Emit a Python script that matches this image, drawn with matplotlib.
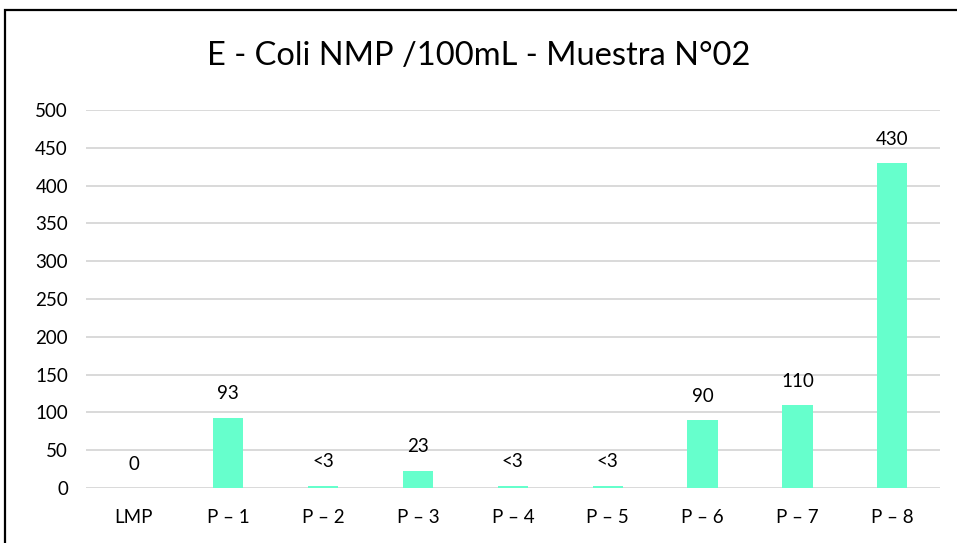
import matplotlib.pyplot as plt
from matplotlib.patches import Rectangle

plt.rcParams['font.family'] = ['Lato', 'DejaVu Sans']

categories = ["LMP", "P – 1", "P – 2", "P – 3", "P – 4", "P – 5", "P – 6", "P – 7", "P – 8"]
values = [0, 93, 3, 23, 3, 3, 90, 110, 430]
labels = ["0", "93", "<3", "23", "<3", "<3", "90", "110", "430"]
yticks = [0, 50, 100, 150, 200, 250, 300, 350, 400, 450, 500]

fig = plt.figure(figsize=(9.57, 5.43), dpi=100)
ax = fig.add_axes([0.0899, 0.1013, 0.892, 0.696])

x = range(len(categories))
bars = ax.bar(x, values, width=0.32, color="#66FFCC", zorder=3)

for b, lab in zip(bars, labels):
    ax.annotate(lab, (b.get_x() + b.get_width() / 2, b.get_height()),
                xytext=(0, 11), textcoords="offset points",
                ha="center", va="bottom", fontsize=13.5, color="#000000")

ax.set_ylim(0, 500)
ax.set_xlim(-0.5, len(categories) - 0.5)
ax.set_yticks(yticks)
ax.set_xticks(list(x))
ax.set_xticklabels(categories)
ax.tick_params(axis="both", length=0, labelsize=13.5, colors="#000000")
ax.tick_params(axis="x", pad=15)
ax.tick_params(axis="y", pad=13)
ax.grid(axis="y", color="#d9d9d9", linewidth=1.4, zorder=0)
for s in ax.spines.values():
    s.set_visible(False)

fig.text(0.5, 0.897, "E - Coli NMP /100mL - Muestra N°02", ha="center", va="center",
         fontsize=23.5)

# outer chart frame
fig.patches.append(Rectangle((5 / 957, -0.05), 1.2, 1 - 10 / 543 + 0.05,
                             transform=fig.transFigure, fill=False,
                             edgecolor="#000000", linewidth=1.6))

fig.savefig("out.png", dpi=100)
